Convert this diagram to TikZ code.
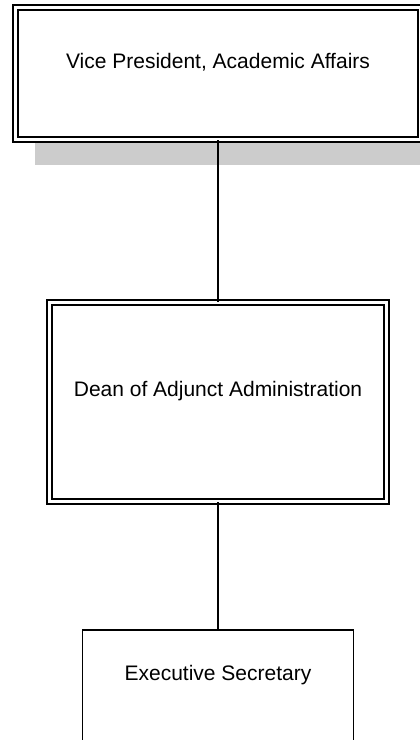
\documentclass[tikz,border=0pt]{standalone}
\usepackage{fontspec}
\setmainfont{Liberation Sans}
\usetikzlibrary{shadows}
\tikzset{
  dbox/.style={draw,fill=white,line width=1.3pt,double,double distance=3.5pt,inner sep=0pt},
  sbox/.style={draw,fill=white,line width=1.3pt,inner sep=0pt},
  boxtext/.style={font=\fontsize{21}{25}\selectfont,text height=15pt,text depth=4pt},
  link/.style={draw,line width=1.3pt}
}
\begin{document}
\begin{tikzpicture}[x=1pt,y=-1pt]
  \useasboundingbox (0,0) rectangle (420,740);
  \node[dbox,minimum width=405pt,minimum height=132pt,
    drop shadow={shadow xshift=19.5pt,shadow yshift=-25.5pt,fill=black!20,opacity=1},
    label={[boxtext,yshift=10.5pt]center:{Vice President, Academic Affairs}}]
    (vp) at (218,73.5) {};
  \node[dbox,minimum width=337pt,minimum height=199pt,
    label={[boxtext,yshift=11.5pt]center:{Dean of Adjunct Administration}}]
    (dean) at (218,402) {};
  \node[sbox,minimum width=271pt,minimum height=130pt,
    label={[boxtext,yshift=20pt]center:{Executive Secretary}}]
    (exec) at (218,695) {};
  \draw[link] (vp) -- (dean);
  \draw[link] (dean) -- (exec);
\end{tikzpicture}
\end{document}
